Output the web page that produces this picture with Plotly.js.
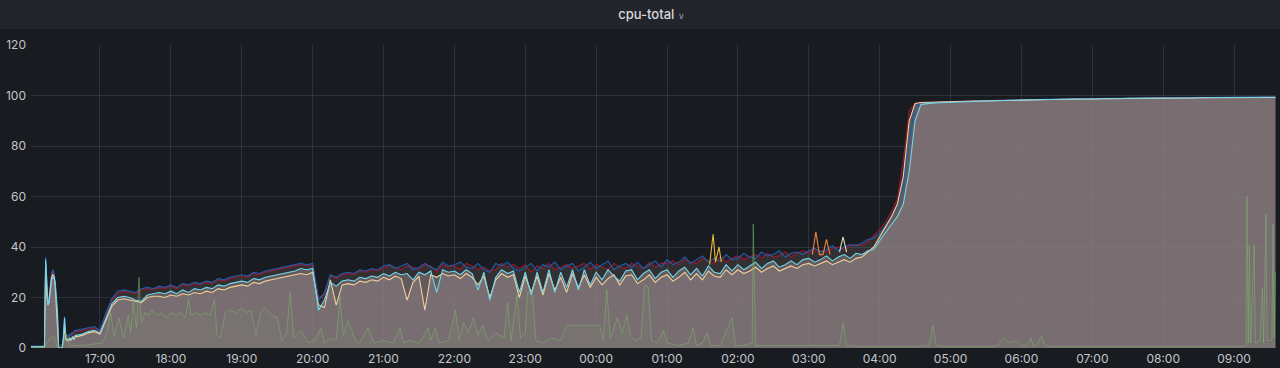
<!DOCTYPE html>
<html>
<head>
<meta charset="utf-8">
<script src="https://cdn.plot.ly/plotly-3.0.1.min.js"></script>
<style>
  html, body { margin: 0; padding: 0; background: #181b1f; }
  #chart { width: 1280px; height: 368px; }
</style>
</head>
<body>
<div id="chart"></div>
<script>
// ---- sampling grid: [start, end, step in minutes] ----
const timeSegments = [["16:00", "16:40", 1], ["16:45", "09:35", 5]];

// ---- series values (percent), one per grid sample ----
const cpuCyan = [
  0.5,0.5,0.5,0.5,0.5,0.5,0.5,0.5,0.5,0.5,
  0.5,0.5,0.5,0.5,35,22,17,18,23,27,
  28,28,26,20,14,0,0,0,0,4,
  12,4,3.5,3,4,3.5,4,4.5,4,5,
  5,
  5.5,6.5,7,
  6,12,17.5,20,20.5,20,19,18.5,21,21.5,22,21.5,
  22.5,21.5,23,22,23.5,23,24,23.5,25,24.5,25.5,26,
  26.5,26,27.5,27,28,28.5,29,29.5,30,30.5,31.5,31,
  31.5,15,19,26,24.5,26.5,27,26.5,28,27.5,28.5,28,
  29.5,28.5,30,29,29.5,27,30,29,30.5,22,31,30,
  30.5,29,31,29.5,23,30,19,28,31,29.5,30.5,22,
  30,21,30,22,31,22,30,24,31,23,31,25,
  30,27,31,28.5,26.5,30.5,31,27,29.5,31,27.5,30,
  31,28,30.5,32,29,31.5,28.5,32.5,30,29.5,33,30.5,
  33,31,32.5,34,31.5,33.5,34.5,32,33,34.5,33,35,
  35.5,34,35,36.5,34.5,36,37,35.5,37.5,37,38.5,39,
  42.5,46,49,52,57,70,90,96.5,96.8,97,97.1,97.2,
  97.4,97.5,97.6,97.6,97.7,97.8,97.8,97.9,98,98,98.1,98.1,
  98.2,98.2,98.3,98.3,98.4,98.4,98.5,98.5,98.5,98.6,98.6,98.6,
  98.7,98.7,98.7,98.8,98.8,98.8,98.9,98.9,98.9,98.9,99,99,
  99,99,99,99.1,99.1,99.1,99.1,99.1,99.2,99.2,99.2,99.2,
  99.2,99.2,99.3,99.3,99.3,99.3,99.3,99.3
];
const cpuPeach = [
  0.5,0.5,0.5,0.5,0.5,0.5,0.5,0.5,0.5,0.5,
  0.5,0.5,0.5,0.5,33,21,17,19,24,28,
  29,28.5,25,18,10,0,0,0,0,3,
  9,3.5,3,3,3.5,3,3.5,4,3.5,4.5,
  4.5,
  5,6,6.5,
  5.5,11,16.5,19,19.5,19,18.5,18,20,20.5,20.5,20,
  21,20.5,21.5,21,22,21.5,22.5,22,23.5,23,24,24.5,
  25,24.5,26,25.5,26.5,27,27.5,28,28.5,29,29.5,29,
  30,17,16,27,17,25,25.5,25,26.5,26,27,26.5,
  28,27,28.5,27.5,19,26,28.5,15,29,28,29.5,28.5,
  29,27.5,29.5,28,25,28.5,20,27,29.5,28,29,20,
  28.5,22,28.5,21,29.5,23,28,22,29.5,24,29,24,
  28,25,27.5,29,25,28.5,29,25.5,27,29,26,28,
  29,26.5,28,30,27,29.5,27,30.5,28.5,28,31,29,
  31,29.5,30.5,32,30,31.5,32.5,30.5,31.5,32.5,31.5,33,
  33.5,32.5,33.5,34.5,33,34,35,34,35.5,36,38,40,
  44,48,52,57,68,90,96.8,97.2,97.3,97.3,97.4,97.4,
  97.5,97.6,97.6,97.7,97.8,97.8,97.9,97.9,98,98,98,98.1,
  98.1,98.2,98.2,98.3,98.3,98.4,98.4,98.4,98.5,98.5,98.5,98.6,
  98.6,98.6,98.7,98.7,98.7,98.8,98.8,98.8,98.8,98.9,98.9,98.9,
  98.9,99,99,99,99,99,99.1,99.1,99.1,99.1,99.1,99.1,
  99.1,99.2,99.2,99.2,99.2,99.2,99.2,99.2
];
const cpuBlue = [
  0.8,0.8,0.8,0.8,0.8,0.8,0.8,0.8,0.8,0.8,
  0.8,0.8,0.8,0.8,36,23,18,20,25,29,
  31,30,27,21,15,0.3,0.3,0.3,0.3,5,
  12.5,5,5,4.5,5.5,5,6,6,6.5,7,
  7,
  7.5,8,8.5,
  7,14,19.5,22.5,23,22.5,22,23.5,24,23.5,24.5,24,
  25,24,25.5,25,26,25.5,26.5,26,27.5,27,28,28.5,
  29,28.5,30,29.5,30.5,31,31.5,32,32.5,33,33.5,33,
  33.5,19,22,29,28,29.5,30,29.5,31,30.5,31.5,31,
  32.5,33,31.5,32.5,33.5,31,32,33.5,32,31,34,32.5,
  33,34,32,31.5,33.5,31,30,33.5,32.5,34,31.5,30.5,
  32,33.5,30.5,33,32,34,31,32.5,33.5,30.5,32,34,
  31.5,33,34.5,31,32.5,33.5,32,34,31.5,33,34.5,32,
  35,33,34,36,33.5,35,36.5,34,35.5,34.5,37,35,
  35.5,37.5,36,35.5,38,36.5,37,38.5,36,37.5,38,37,
  38.5,39.5,38,39,40.5,38.5,40,41,40.5,41.5,43,43.5,
  45.5,48.5,52,56,64,82,95.5,96.8,97.1,97.2,97.3,97.4,
  97.5,97.6,97.7,97.7,97.8,97.9,97.9,98,98.1,98.1,98.2,98.2,
  98.3,98.3,98.4,98.4,98.5,98.5,98.6,98.6,98.6,98.7,98.7,98.7,
  98.8,98.8,98.8,98.9,98.9,98.9,99,99,99,99,99.1,99.1,
  99.1,99.1,99.1,99.2,99.2,99.2,99.2,99.2,99.3,99.3,99.3,99.3,
  99.3,99.3,99.4,99.4,99.4,99.4,99.4,99.4
];
const cpuRed = [
  0.6,0.6,0.6,0.6,0.6,0.6,0.6,0.6,0.6,0.6,
  0.6,0.6,0.6,0.6,34,22,17.5,19.5,24.5,29.5,
  30.5,29,26,20,12,0.2,0.2,0.2,0.2,4,
  11,4.5,4.5,4,5,4.5,5.5,5.5,6,6.5,
  6.5,
  7,7.5,8,
  6.5,13,19,21.5,22.5,22,21.5,23,23.5,23,24,23.5,
  24.5,23.5,25,24.5,25.5,25,26,25.5,27,26.5,27.5,28,
  28.5,28,29.5,29,30,30.5,31,31.5,32,32.5,33,32.5,
  33,20,21,28.5,27.5,29,29.5,29,30.5,30,31,30.5,
  31.5,32.5,32,31,32.5,32,31,33,32.5,30,33,32,
  32.5,31,33.5,32.5,31,32,30.5,31,33.5,32,33,31.5,
  33,30,32.5,31.5,33.5,31,32,33,31.5,32.5,33.5,31,
  33,32,31,33.5,32,31.5,33.5,32.5,31.5,34,32,33.5,
  33.5,34.5,33,35,34,33.5,35.5,34.5,33.5,36,34,35.5,
  36.5,35,36,37,35.5,37.5,36,36.5,38,36,37.5,38.5,
  37.5,39,38.5,38,39.5,40,39,40.5,41,40.5,42,44.5,
  47,50,54,59,74,94,96.8,97.1,97.3,97.4,97.5,97.5,
  97.6,97.7,97.7,97.8,97.9,97.9,98,98,98.1,98.1,98.2,98.2,
  98.3,98.3,98.3,98.4,98.4,98.5,98.5,98.5,98.6,98.6,98.6,98.7,
  98.7,98.7,98.8,98.8,98.8,98.9,98.9,98.9,99,99,99,99,
  99.1,99.1,99.1,99.1,99.2,99.2,99.2,99.2,99.2,99.3,99.3,99.3,
  99.3,99.3,99.3,99.3,99.3,99.4,99.4,99.4
];

// ---- low, spiky series on its own timestamps ----
const greenTimes = [
  "16:00","16:13","16:16","16:21","16:24","16:29","16:31","16:34","16:45","17:02",
  "17:06","17:09","17:12","17:16","17:20","17:24","17:26","17:28","17:31","17:33",
  "17:35","17:38","17:41","17:44","17:48","17:52","17:56","18:00","18:04","18:08",
  "18:12","18:15","18:17","18:21","18:25","18:29","18:33","18:37","18:39","18:42",
  "18:46","18:50","18:55","19:00","19:04","19:08","19:12","19:16","19:20","19:25",
  "19:30","19:34","19:38","19:41","19:44","19:50","19:56","20:02","20:07","20:10",
  "20:15","20:20","20:23","20:26","20:30","20:36","20:40","20:47","20:52","21:00",
  "21:08","21:14","21:17","21:22","21:30","21:38","21:40","21:44","21:47","21:55",
  "22:01","22:04","22:08","22:12","22:16","22:20","22:24","22:28","22:35","22:42",
  "22:45","22:48","22:53","22:56","23:00","23:02","23:06","23:09","23:15","23:22",
  "23:30","23:35","23:40","23:50","00:00","00:03","00:06","00:09","00:12","00:18",
  "00:22","00:26","00:29","00:33","00:38","00:41","00:44","00:47","00:52","00:57",
  "01:00","01:10","01:18","01:22","01:25","01:30","01:34","01:37","01:45","01:55",
  "01:58","02:05","02:12","02:13","02:15","02:30","02:45","03:00","03:15","03:26",
  "03:29","03:32","03:45","04:00","04:30","04:42","04:45","04:48","05:00","05:30",
  "05:40","05:45","05:50","05:55","06:00","06:05","06:08","06:10","06:13","06:17",
  "06:20","06:23","06:40","07:30","08:30","09:05","09:10","09:11","09:12","09:13",
  "09:14","09:17","09:18","09:22","09:24","09:25","09:27","09:28","09:32","09:33",
  "09:34","09:35"
];
const greenValues = [
  0.3,0.3,3,5,0,2,6,1,1,2,
  6,14,5,12,4,13,6,18,8,28,
  10,14,13,15,13,14,12,14,13,14,
  12,19,13,14,13,14,13,19,5,4,
  14,15,14,16,14,15,5,14,16,13,
  12,3,6,22,4,7,2,3,8,2,
  4,3,20,5,11,3,2,8,2,3,
  2,8,2,3,2,8,3,8,2,3,
  15,3,10,6,12,5,9,3,6,4,
  18,3,21,4,6,22,22,3,2,4,
  3,9,9,9,9,9,3,23,4,12,
  6,13,5,3,4,25,24,3,2,7,
  2,1,2,8,1,2,6,1,1,12,
  1,1,2,49,1,1,1,1,1,1,
  10,1,0.5,0.5,0.5,1,9,1,0.5,0.5,
  1,4,2,3,1,1,4,1,1,5,
  1,0.5,0.5,0.5,0.5,0.5,1,60,2,41,
  2,41,2,3,24,2,53,3,3,49,
  4,30
];

// ---- short bursts from single cores ----
const yellowTimes = ["01:36","01:39","01:41","01:44","01:46"];
const yellowValues = [33,45,34,40,34];
const orangeTimes = ["03:03","03:06","03:09","03:12","03:15","03:18"];
const orangeValues = [37,46,37,37,43,37];
const paleTimes = ["03:26","03:29","03:32"];
const paleValues = [38,44,38];

const yTicks = [0, 20, 40, 60, 80, 100, 120];

// ---- helpers ----
function pad(n) { return (n < 10 ? "0" : "") + n; }
function minutesOf(s) {
  const p = s.split(":").map(Number);
  let t = p[0] * 60 + p[1];
  if (p[0] < 16) t += 1440;
  return t;
}
function stamp(t) {
  const day = t >= 1440 ? "2021-03-02" : "2021-03-01";
  const tt = t % 1440;
  return day + " " + pad(Math.floor(tt / 60)) + ":" + pad(tt % 60) + ":00";
}
function toStamps(list) { return list.map(s => stamp(minutesOf(s))); }

const gridTimes = [];
timeSegments.forEach(([a, b, step]) => {
  for (let t = minutesOf(a); t <= minutesOf(b); t += step) gridTimes.push(stamp(t));
});

const fillColor = "rgba(138,125,127,";
const series = [
  { y: cpuRed,   color: "#9a1a2c", fillA: 0.12 },
  { y: cpuBlue,  color: "#1f5fb0", fillA: 0.12 },
  { y: cpuPeach, color: "#f2cf9c", fillA: 0.55 },
  { y: cpuCyan,  color: "#72d6ea", fillA: 0.55 }
];

const traces = [];
series.forEach(s => traces.push({
  x: gridTimes, y: s.y, type: "scatter", mode: "lines",
  line: { width: 0 }, fill: "tozeroy", fillcolor: fillColor + s.fillA + ")",
  hoverinfo: "skip", showlegend: false
}));
series.forEach(s => traces.push({
  x: gridTimes, y: s.y, type: "scatter", mode: "lines",
  line: { color: s.color, width: 1.1 }, showlegend: false
}));
traces.push({
  x: toStamps(greenTimes), y: greenValues, type: "scatter", mode: "lines",
  line: { color: "rgba(126,178,109,0.55)", width: 1 },
  fill: "tozeroy", fillcolor: "rgba(126,178,109,0.07)", showlegend: false
});
[[yellowTimes, yellowValues, "#eab839"], [orangeTimes, orangeValues, "#ef843c"], [paleTimes, paleValues, "#d8e0b0"]]
  .forEach(([t, v, c]) => traces.push({
    x: toStamps(t), y: v, type: "scatter", mode: "lines",
    line: { color: c, width: 1.1 }, showlegend: false
  }));

const gridCol = "rgba(204,204,220,0.13)";
const tickFont = { family: "Inter, Roboto, sans-serif", size: 12, color: "#c4c6cc" };

const layout = {
  width: 1280, height: 368,
  margin: { l: 31, r: 4, t: 45, b: 20, pad: 0 },
  paper_bgcolor: "#181b1f",
  plot_bgcolor: "#181b1f",
  title: {
    text: 'cpu-total <span style="font-size:9px;color:#9a9ca3">∨</span>',
    x: 0.509, xref: "container", xanchor: "center",
    y: 1 - 14 / 368, yref: "container", yanchor: "middle",
    font: { family: "Inter, Roboto, sans-serif", size: 13, color: "#d8d9da", weight: 500 }
  },
  shapes: [{
    type: "rect", xref: "paper", yref: "paper", layer: "below",
    x0: -0.05, x1: 1.05, y0: (348 - 29) / 303, y1: 1.2,
    fillcolor: "#22252b", line: { width: 0 }
  }],
  xaxis: {
    type: "date",
    range: ["2021-03-01 16:01:36", "2021-03-02 09:35:30"],
    tick0: "2021-03-01 17:00:00", dtick: 3600000,
    tickformat: "%H:%M",
    showgrid: true, gridcolor: gridCol, gridwidth: 1,
    zeroline: false, showline: false, ticks: "",
    tickfont: tickFont, ticklabelstandoff: 2
  },
  yaxis: {
    range: [0, 120],
    tickvals: yTicks,
    showgrid: true, gridcolor: gridCol, gridwidth: 1,
    zeroline: false, showline: false, ticks: "",
    tickfont: tickFont, ticklabelstandoff: 4
  },
  hovermode: false
};

Plotly.newPlot("chart", traces, layout, { displayModeBar: false, staticPlot: true });
</script>
</body>
</html>
